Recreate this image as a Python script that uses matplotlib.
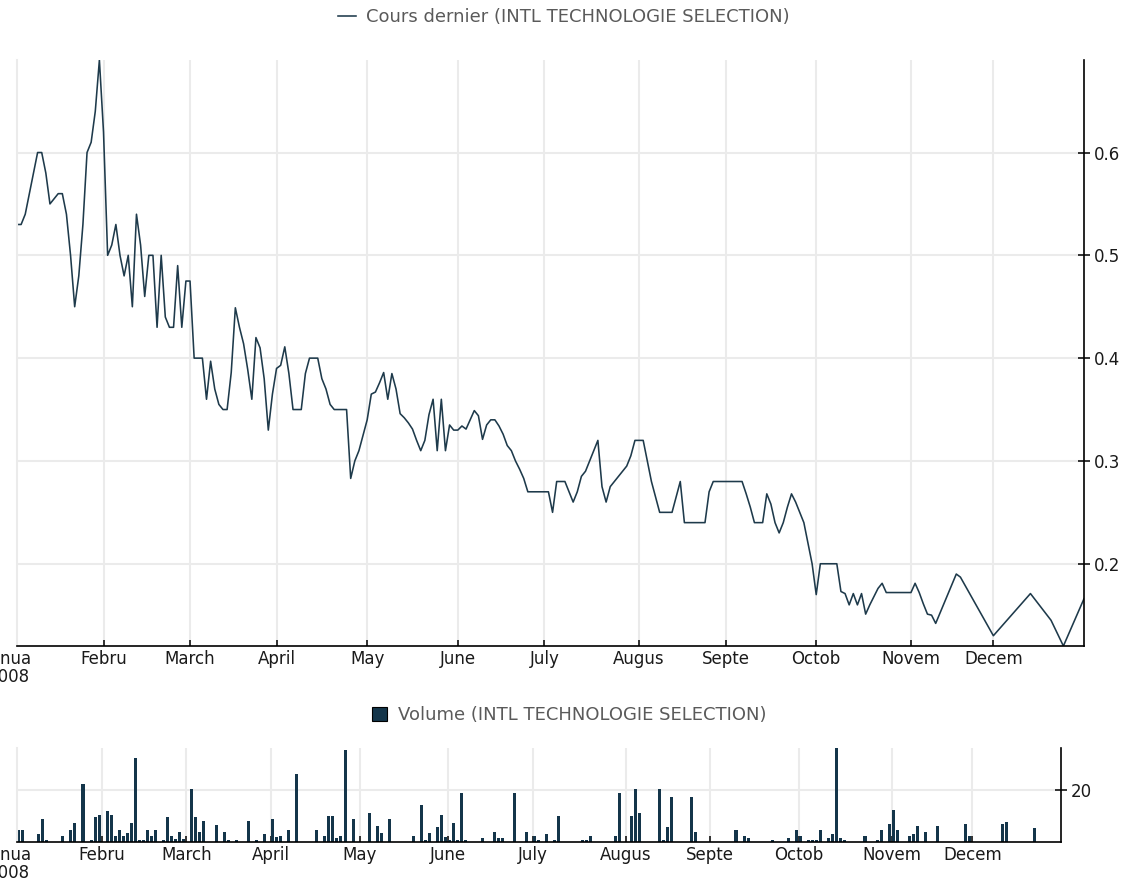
import numpy as np
import matplotlib
matplotlib.use('Agg')
import matplotlib.pyplot as plt

# ---------------- data ----------------
price_dates = [
    '2008-01-03', '2008-01-04', '2008-01-07', '2008-01-08', '2008-01-09', '2008-01-10', '2008-01-11',
    '2008-01-14', '2008-01-15', '2008-01-16', '2008-01-17', '2008-01-18', '2008-01-21', '2008-01-22',
    '2008-01-23', '2008-01-24', '2008-01-25', '2008-01-28', '2008-01-29', '2008-01-30', '2008-01-31',
    '2008-02-01', '2008-02-04', '2008-02-05', '2008-02-06', '2008-02-07', '2008-02-08', '2008-02-11',
    '2008-02-12', '2008-02-13', '2008-02-14', '2008-02-15', '2008-02-18', '2008-02-19', '2008-02-20',
    '2008-02-21', '2008-02-22', '2008-02-25', '2008-02-26', '2008-02-27', '2008-02-28', '2008-02-29',
    '2008-03-03', '2008-03-04', '2008-03-05', '2008-03-06', '2008-03-07', '2008-03-10', '2008-03-11',
    '2008-03-12', '2008-03-13', '2008-03-14', '2008-03-17', '2008-03-18', '2008-03-19', '2008-03-20',
    '2008-03-21', '2008-03-24', '2008-03-25', '2008-03-26', '2008-03-27', '2008-03-28', '2008-03-31',
    '2008-04-01', '2008-04-02', '2008-04-03', '2008-04-04', '2008-04-07', '2008-04-08', '2008-04-09',
    '2008-04-10', '2008-04-11', '2008-04-14', '2008-04-15', '2008-04-16', '2008-04-17', '2008-04-18',
    '2008-04-21', '2008-04-22', '2008-04-23', '2008-04-24', '2008-04-25', '2008-04-28', '2008-04-29',
    '2008-04-30', '2008-05-01', '2008-05-02', '2008-05-05', '2008-05-06', '2008-05-07', '2008-05-08',
    '2008-05-09', '2008-05-12', '2008-05-13', '2008-05-14', '2008-05-15', '2008-05-16', '2008-05-19',
    '2008-05-20', '2008-05-21', '2008-05-22', '2008-05-23', '2008-05-26', '2008-05-27', '2008-05-28',
    '2008-05-29', '2008-05-30', '2008-06-02', '2008-06-03', '2008-06-04', '2008-06-05', '2008-06-06',
    '2008-06-09', '2008-06-10', '2008-06-11', '2008-06-12', '2008-06-13', '2008-06-16', '2008-06-17',
    '2008-06-18', '2008-06-19', '2008-06-20', '2008-06-23', '2008-06-24', '2008-06-25', '2008-07-02',
    '2008-07-03', '2008-07-04', '2008-07-07', '2008-07-08', '2008-07-09', '2008-07-10', '2008-07-11',
    '2008-07-14', '2008-07-15', '2008-07-16', '2008-07-17', '2008-07-18', '2008-07-21', '2008-07-22',
    '2008-07-23', '2008-07-24', '2008-07-25', '2008-07-28', '2008-07-29', '2008-07-30', '2008-07-31',
    '2008-08-04', '2008-08-05', '2008-08-06', '2008-08-07', '2008-08-08', '2008-08-13', '2008-08-14',
    '2008-08-15', '2008-08-18', '2008-08-25', '2008-08-26', '2008-08-27', '2008-09-05', '2008-09-08',
    '2008-09-09', '2008-09-10', '2008-09-12', '2008-09-15', '2008-09-16', '2008-09-17', '2008-09-18',
    '2008-09-19', '2008-09-22', '2008-09-23', '2008-09-24', '2008-09-25', '2008-09-26', '2008-09-29',
    '2008-09-30', '2008-10-01', '2008-10-02', '2008-10-08', '2008-10-09', '2008-10-10', '2008-10-13',
    '2008-10-14', '2008-10-15', '2008-10-16', '2008-10-17', '2008-10-20', '2008-10-21', '2008-10-22',
    '2008-10-23', '2008-10-24', '2008-11-03', '2008-11-04', '2008-11-05', '2008-11-06', '2008-11-07',
    '2008-11-10', '2008-11-11', '2008-11-18', '2008-11-19', '2008-12-01', '2008-12-12', '2008-12-19',
    '2008-12-24', '2008-12-31',
]
price_values = [
    0.53, 0.53, 0.54, 0.56, 0.58, 0.60, 0.60,
    0.58, 0.55, 0.555, 0.56, 0.56, 0.54, 0.50,
    0.45, 0.48, 0.53, 0.60, 0.61, 0.64, 0.69,
    0.62, 0.50, 0.51, 0.53, 0.50, 0.48, 0.50,
    0.45, 0.54, 0.51, 0.46, 0.50, 0.50, 0.43,
    0.50, 0.44, 0.43, 0.43, 0.49, 0.43, 0.475,
    0.475, 0.40, 0.40, 0.40, 0.36, 0.397, 0.37,
    0.355, 0.35, 0.35, 0.386, 0.449, 0.43, 0.414,
    0.389, 0.36, 0.42, 0.41, 0.38, 0.33, 0.365,
    0.39, 0.393, 0.411, 0.385, 0.35, 0.35, 0.35,
    0.385, 0.40, 0.40, 0.40, 0.38, 0.37, 0.355,
    0.35, 0.35, 0.35, 0.35, 0.283, 0.30, 0.31,
    0.325, 0.34, 0.365, 0.367, 0.376, 0.386, 0.36,
    0.385, 0.37, 0.346, 0.342, 0.337, 0.331, 0.32,
    0.31, 0.32, 0.345, 0.36, 0.31, 0.36, 0.31,
    0.335, 0.33, 0.33, 0.334, 0.331, 0.34, 0.349,
    0.344, 0.321, 0.335, 0.34, 0.34, 0.334, 0.326,
    0.315, 0.31, 0.30, 0.292, 0.283, 0.27, 0.27,
    0.25, 0.28, 0.28, 0.28, 0.27, 0.26, 0.27,
    0.285, 0.29, 0.30, 0.31, 0.32, 0.275, 0.26,
    0.275, 0.28, 0.285, 0.29, 0.295, 0.305, 0.32,
    0.32, 0.30, 0.28, 0.265, 0.25, 0.25, 0.265,
    0.28, 0.24, 0.24, 0.27, 0.28, 0.28, 0.268,
    0.255, 0.24, 0.24, 0.268, 0.258, 0.24, 0.23,
    0.24, 0.255, 0.268, 0.26, 0.25, 0.24, 0.22,
    0.20, 0.17, 0.20, 0.20, 0.173, 0.171, 0.16,
    0.171, 0.16, 0.171, 0.151, 0.16, 0.168, 0.176,
    0.181, 0.172, 0.172, 0.181, 0.172, 0.161, 0.151,
    0.150, 0.142, 0.19, 0.187, 0.13, 0.171, 0.145,
    0.12, 0.166,
]

volume_dates = [
    '2008-01-03', '2008-01-04', '2008-01-10', '2008-01-11', '2008-01-14', '2008-01-18', '2008-01-22',
    '2008-01-23', '2008-01-25', '2008-01-29', '2008-01-30', '2008-01-31', '2008-02-04', '2008-02-05',
    '2008-02-06', '2008-02-07', '2008-02-08', '2008-02-11', '2008-02-12', '2008-02-13', '2008-02-14',
    '2008-02-15', '2008-02-18', '2008-02-19', '2008-02-20', '2008-02-22', '2008-02-25', '2008-02-26',
    '2008-02-27', '2008-02-28', '2008-02-29', '2008-03-04', '2008-03-05', '2008-03-06', '2008-03-07',
    '2008-03-12', '2008-03-14', '2008-03-17', '2008-03-19', '2008-03-24', '2008-03-26', '2008-03-28',
    '2008-04-01', '2008-04-02', '2008-04-03', '2008-04-07', '2008-04-09', '2008-04-16', '2008-04-18',
    '2008-04-21', '2008-04-22', '2008-04-23', '2008-04-24', '2008-04-25', '2008-04-29', '2008-05-05',
    '2008-05-07', '2008-05-08', '2008-05-12', '2008-05-20', '2008-05-22', '2008-05-23', '2008-05-26',
    '2008-05-28', '2008-05-29', '2008-05-30', '2008-06-02', '2008-06-03', '2008-06-04', '2008-06-05',
    '2008-06-06', '2008-06-12', '2008-06-17', '2008-06-18', '2008-06-19', '2008-06-24', '2008-06-27',
    '2008-07-01', '2008-07-02', '2008-07-04', '2008-07-08', '2008-07-09', '2008-07-17', '2008-07-18',
    '2008-07-21', '2008-07-29', '2008-07-30', '2008-08-04', '2008-08-05', '2008-08-06', '2008-08-13',
    '2008-08-14', '2008-08-15', '2008-08-18', '2008-08-25', '2008-08-26', '2008-09-09', '2008-09-11',
    '2008-09-12', '2008-09-22', '2008-09-26', '2008-09-30', '2008-10-01', '2008-10-03', '2008-10-06',
    '2008-10-07', '2008-10-08', '2008-10-10', '2008-10-13', '2008-10-14', '2008-10-15', '2008-10-16',
    '2008-10-23', '2008-10-28', '2008-10-29', '2008-10-31', '2008-11-03', '2008-11-04', '2008-11-07',
    '2008-11-10', '2008-11-11', '2008-11-13', '2008-11-18', '2008-11-27', '2008-11-28', '2008-12-10',
    '2008-12-11', '2008-12-22',
]
volume_values = [
    4.8, 4.8, 3.0, 8.8, 0.9, 2.5, 4.8,
    7.2, 22.2, 0.9, 9.5, 10.3, 12.0, 10.3,
    2.4, 4.8, 2.4, 3.3, 7.2, 32.3, 0.9,
    0.9, 4.8, 2.5, 4.8, 0.9, 9.5, 2.5,
    1.2, 4.0, 1.2, 20.5, 9.5, 4.0, 8.0,
    6.4, 4.0, 0.9, 0.9, 8.0, 0.9, 3.2,
    8.7, 1.8, 2.4, 4.8, 26.0, 4.8, 2.4,
    10.2, 10.2, 1.7, 2.4, 35.5, 8.7, 11.1,
    6.3, 3.3, 8.8, 2.4, 14.2, 0.9, 3.3,
    5.6, 10.3, 2.0, 0.9, 7.2, 0.9, 19.0,
    0.9, 1.7, 4.0, 1.7, 1.7, 19.0, 3.9,
    2.2, 0.9, 3.1, 0.9, 10.1, 0.9, 0.9,
    2.2, 2.2, 18.8, 10.1, 20.4, 11.0, 20.4,
    0.9, 5.6, 17.3, 17.3, 3.9, 4.8, 2.3,
    1.7, 0.9, 1.7, 4.8, 2.3, 0.9, 0.9,
    0.9, 4.8, 1.7, 3.2, 36.2, 1.7, 0.9,
    2.3, 0.9, 4.8, 7.1, 12.5, 4.8, 2.3,
    3.2, 6.2, 3.9, 6.2, 7.1, 2.3, 7.1,
    7.7, 5.5,
]

month_starts = ['2008-01-01', '2008-02-01', '2008-03-01', '2008-04-01', '2008-05-01', '2008-06-01',
                '2008-07-01', '2008-08-01', '2008-09-01', '2008-10-01', '2008-11-01', '2008-12-01']
month_labels = ['Janua\n2008', 'Febru', 'March', 'April', 'May', 'June',
                'July', 'Augus', 'Septe', 'Octob', 'Novem', 'Decem']
price_ticks = [0.2, 0.3, 0.4, 0.5, 0.6]
volume_ticks = [20]

price_label = 'Cours dernier (INTL TECHNOLOGIE SELECTION)'
volume_label = 'Volume (INTL TECHNOLOGIE SELECTION)'

# ---------------- style ----------------
LINE_C = '#1e3a4b'
BAR_C = '#14354a'
GRID_C = '#ebebeb'
TXT_C = '#1a1a1a'
LEG_C = '#5a5a5a'
FS = 12

W, H = 1126, 883
fig = plt.figure(figsize=(W / 100, H / 100), dpi=100)
ax1 = fig.add_axes([17 / W, 1 - 646 / H, 1067 / W, 586 / H])
ax2 = fig.add_axes([17 / W, 1 - 842 / H, 1044 / W, 94 / H])


def bpos(dates):
    """business-day position on the time axis (weekends removed)"""
    return np.busday_count('2008-01-01', np.array(dates, dtype='datetime64[D]'))


xp = bpos(price_dates)
xv = bpos(volume_dates)
xt = bpos(month_starts)

line, = ax1.plot(xp, price_values, color=LINE_C, lw=1.15, label=price_label)
bars = ax2.bar(xv, volume_values, width=0.75, align='edge', color=BAR_C, label=volume_label)

for ax, ymin, ymax, yt, fmt in [
        (ax1, min(price_values), max(price_values), price_ticks, '{:.1f}'),
        (ax2, 0, max(volume_values), volume_ticks, '{:d}')]:
    ax.set_xlim(xp[0], xp[-1])
    ax.set_ylim(ymin, ymax)
    ax.set_xticks(xt[1:])
    ax.set_xticklabels(month_labels[1:])
    ax.yaxis.tick_right()
    ax.set_yticks(yt)
    ax.set_yticklabels([fmt.format(t) for t in yt])
    ax.grid(True, color=GRID_C, lw=1.5)
    ax.set_axisbelow(True)
    ax.spines['top'].set_visible(False)
    ax.spines['left'].set_color(GRID_C)
    ax.spines['left'].set_linewidth(1.5)
    for s in ('right', 'bottom'):
        ax.spines[s].set_color('black')
        ax.spines[s].set_linewidth(1.2)
    ax.tick_params(axis='x', direction='in', length=4, width=1.1, colors='black',
                   labelsize=FS, labelcolor=TXT_C, pad=3)
    ax.tick_params(axis='y', direction='inout', length=8, width=1.1, colors='black',
                   labelsize=FS, labelcolor=TXT_C, pad=3, left=False, right=True)
    # first month label sits left of the first trading day
    ax.annotate(month_labels[0], xy=(xt[0], 0), xycoords=('data', 'axes fraction'),
                xytext=(0, -3), textcoords='offset points', ha='center', va='top',
                fontsize=FS, color=TXT_C, annotation_clip=False, linespacing=1.0)

leg1 = fig.legend(handles=[line], labels=[price_label], loc='center',
                  bbox_to_anchor=(563.5 / W, 1 - 17 / H), frameon=False, fontsize=13,
                  labelcolor=LEG_C, handlelength=1.0, handletextpad=0.55)
leg2 = fig.legend(handles=[bars], labels=[volume_label], loc='center',
                  bbox_to_anchor=(569 / W, 1 - 715 / H), frameon=False, fontsize=13,
                  labelcolor=LEG_C, handlelength=0.85, handleheight=0.85, handletextpad=0.6)
for h in leg2.legend_handles:
    h.set_edgecolor('black')
    h.set_linewidth(0.8)

fig.savefig('out.png', dpi=100)
